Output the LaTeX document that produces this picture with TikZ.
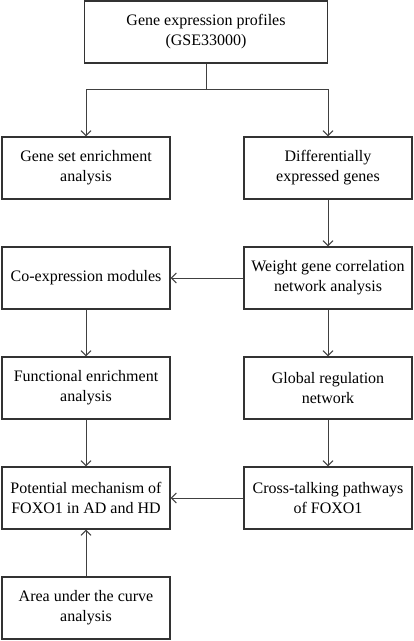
\documentclass[tikz,border=0pt]{standalone}
\usepackage{fontspec}
\setmainfont{Liberation Serif}
\usepackage{tikz}
\usepackage{xcolor}
\usetikzlibrary{arrows.meta}

\begin{document}
\begin{tikzpicture}[x=1pt,y=-1pt,
  mybox/.style={draw=black!80,line width=1.3pt,minimum width=168,minimum height=62,align=center,inner sep=0,font=\fontsize{16}{20}\selectfont},
  myarrow/.style={draw=black!75,line width=1pt,-{Straight Barb[length=5pt,width=10pt]}}]
\useasboundingbox (0,0) rectangle (414,641);
\node [mybox,minimum width=243] (profiles) at (206,32) {Gene expression profiles\\(GSE33000)};
\node [mybox] (gsea) at (86,168) {Gene set enrichment\\analysis};
\node [mybox] (deg) at (328,168) {Differentially\\expressed genes};
\node [mybox] (coexp) at (86,278) {Co-expression modules};
\node [mybox] (wgcna) at (328,278) {Weight gene correlation\\network analysis};
\node [mybox] (func) at (86,388) {Functional enrichment\\analysis};
\node [mybox] (global) at (328,388) {Global regulation\\network};
\node [mybox] (mech) at (86,498) {Potential mechanism of\\FOXO1 in AD and HD};
\node [mybox] (cross) at (328,498) {Cross-talking pathways\\of FOXO1};
\node [mybox] (auc) at (86,608) {Area under the curve\\analysis};
\draw [draw=black!75,line width=1pt] (profiles.south) -- ++(0,26) coordinate (split);
\draw [myarrow] (split) -| (gsea.north);
\draw [myarrow] (split) -| (deg.north);
  \foreach \from/\to in {deg/wgcna,coexp/func,wgcna/global,func/mech,global/cross}
  {  \draw [myarrow] (\from.south) -- (\to.north);}
\draw [myarrow] (wgcna.west) -- (coexp.east);
\draw [myarrow] (cross.west) -- (mech.east);
\draw [myarrow] (auc.north) -- (mech.south);
\end{tikzpicture}
\end{document}
